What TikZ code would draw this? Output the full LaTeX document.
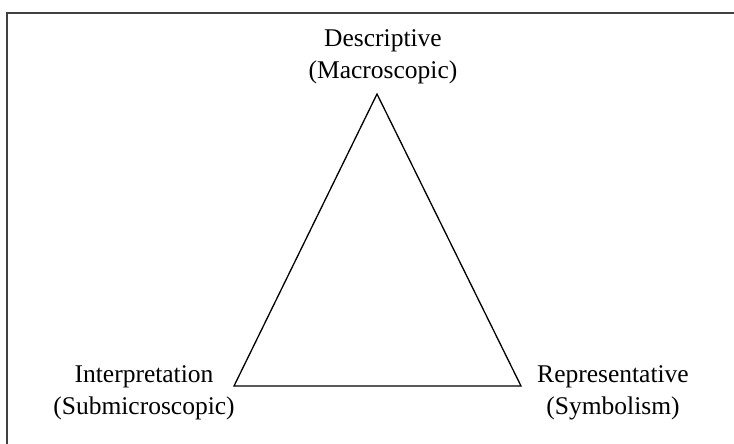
\documentclass[tikz,border=0pt]{standalone}
\usepackage{fontspec}
\setmainfont{Liberation Serif}
\begin{document}
\begin{tikzpicture}[x=1pt,y=-1pt,
  lbl/.style={align=center,inner sep=0pt,font=\fontsize{25.5}{31.5}\selectfont},
  frame/.style={draw=black!75,line width=2pt},
  tri/.style={draw=black,line width=1.3pt,line join=miter}]
\useasboundingbox (0,0) rectangle (734,444);
\coordinate (tl) at (7,13);
\coordinate (tr) at (734,13);
\coordinate (bl) at (7,444);
\draw[frame] (tr) -- (tl) -- (bl);
\coordinate (A) at (377,94);
\coordinate (B) at (234,386);
\coordinate (C) at (521,386);
\draw[tri] (A) -- (B) -- (C) -- cycle;
\node[lbl] (desc) at (383,57) {Descriptive\\(Macroscopic)};
\node[lbl] (interp) at (144,393) {Interpretation\\(Submicroscopic)};
\node[lbl] (repr) at (613,393) {Representative\\(Symbolism)};
\end{tikzpicture}
\end{document}
